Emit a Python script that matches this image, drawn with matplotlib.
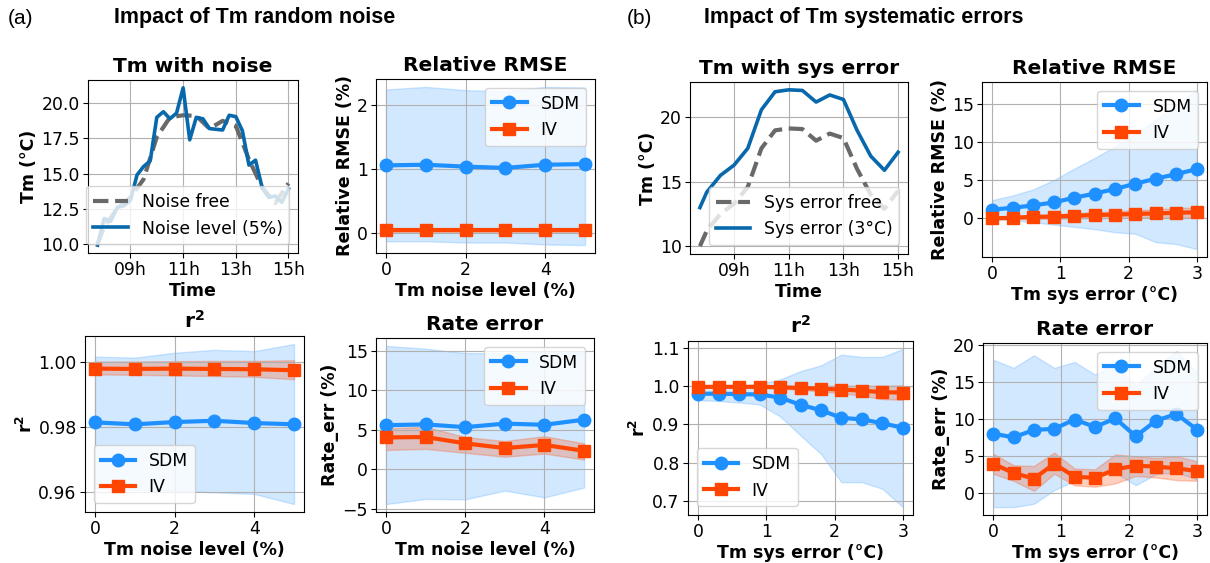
"""Impact of Tm random noise / systematic errors on SDM and IV fits."""

import numpy as np
import matplotlib.pyplot as plt
from matplotlib.ticker import FixedLocator

# ---- Tm time series ----
times_30 = ['07:45', '08:00', '08:30', '09:00', '09:30', '10:00', '10:30', '11:00',
            '11:30', '12:00', '12:30', '13:00', '13:30', '14:00', '14:30', '15:00']
tm_free = [10.0, 11.2, 12.5, 13.3, 14.6, 17.6, 19.0, 19.15,
           19.1, 18.2, 18.75, 18.4, 16.0, 14.0, 12.9, 14.3]
tm_sys3 = [13.0, 14.2, 15.5, 16.3, 17.6, 20.6, 22.0, 22.15,
           22.1, 21.2, 21.75, 21.4, 19.0, 17.0, 15.9, 17.3]

times_15 = ['07:45', '08:00', '08:15', '08:30', '08:45', '09:00', '09:15', '09:30',
            '09:45', '10:00', '10:15', '10:30', '10:45', '11:00', '11:15', '11:30',
            '11:45', '12:00', '12:15', '12:30', '12:45', '13:00', '13:15', '13:30',
            '13:45', '14:00', '14:15', '14:30', '14:45', '15:00']
tm_noise5 = [9.9, 11.8, 11.6, 12.6, 12.7, 13.1, 14.9, 15.5,
             15.9, 19.0, 19.4, 18.9, 19.3, 21.1, 17.4, 19.0,
             18.9, 18.2, 18.15, 18.1, 19.15, 19.05, 18.05, 15.6,
             15.95, 14.0, 13.3, 13.4, 12.95, 13.9]

# ---- random noise sweep ----
noise_lvl = [0, 1, 2, 3, 4, 5]
n_rmse_sdm = [1.06, 1.07, 1.04, 1.02, 1.07, 1.08]
n_rmse_sdm_lo = [-0.13, -0.13, -0.15, -0.15, -0.18, -0.19]
n_rmse_sdm_hi = [2.25, 2.29, 2.24, 2.22, 2.29, 2.28]
n_rmse_iv = [0.04, 0.04, 0.04, 0.04, 0.04, 0.04]
n_rmse_iv_lo = [0.01, 0.01, 0.01, 0.01, 0.01, 0.01]
n_rmse_iv_hi = [0.07, 0.07, 0.07, 0.07, 0.07, 0.07]

n_r2_sdm = [0.9815, 0.9809, 0.9816, 0.9820, 0.9813, 0.9809]
n_r2_sdm_lo = [0.9611, 0.9606, 0.9604, 0.9599, 0.9594, 0.9563]
n_r2_sdm_hi = [1.0018, 1.0015, 1.0030, 1.0039, 1.0035, 1.0057]
n_r2_iv = [0.9981, 0.9980, 0.9981, 0.9980, 0.9979, 0.9976]
n_r2_iv_lo = [0.9963, 0.9962, 0.9960, 0.9958, 0.9956, 0.9948]
n_r2_iv_hi = [1.0003, 1.0003, 1.0004, 1.0005, 1.0005, 1.0007]

n_rate_sdm = [5.6, 5.7, 5.35, 5.8, 5.65, 6.3]
n_rate_sdm_lo = [-4.4, -3.75, -3.8, -2.7, -3.55, -2.3]
n_rate_sdm_hi = [15.65, 15.3, 14.75, 14.7, 14.9, 14.85]
n_rate_iv = [4.05, 4.1, 3.3, 2.7, 3.1, 2.35]
n_rate_iv_lo = [2.45, 2.6, 2.1, 1.6, 2.0, 1.25]
n_rate_iv_hi = [5.2, 5.4, 4.1, 3.6, 4.2, 3.3]

# ---- systematic error sweep ----
sys_err = [0.0, 0.3, 0.6, 0.9, 1.2, 1.5, 1.8, 2.1, 2.4, 2.7, 3.0]
s_rmse_sdm = [1.15, 1.4, 1.7, 2.1, 2.7, 3.25, 3.85, 4.55, 5.2, 5.8, 6.45]
s_rmse_sdm_lo = [-0.05, -0.25, -0.5, -0.8, -1.1, -1.4, -1.8, -2.0, -3.1, -3.35, -4.0]
s_rmse_sdm_hi = [2.4, 3.0, 3.8, 5.0, 6.5, 7.9, 9.4, 11.1, 12.9, 14.9, 16.8]
s_rmse_iv = [0.0, 0.1, 0.2, 0.25, 0.35, 0.45, 0.5, 0.6, 0.65, 0.75, 0.8]
s_rmse_iv_lo = [-0.1, -0.1, -0.05, -0.05, 0.0, 0.05, 0.05, 0.1, 0.1, 0.1, 0.1]
s_rmse_iv_hi = [0.1, 0.3, 0.45, 0.55, 0.7, 0.85, 0.95, 1.1, 1.2, 1.35, 1.45]

s_r2_sdm = [0.980, 0.980, 0.979, 0.978, 0.970, 0.951, 0.937, 0.917, 0.913, 0.903, 0.891]
s_r2_sdm_lo = [0.963, 0.961, 0.957, 0.952, 0.921, 0.871, 0.823, 0.749, 0.749, 0.732, 0.684]
s_r2_sdm_hi = [0.999, 0.999, 1.001, 1.006, 1.017, 1.039, 1.054, 1.082, 1.076, 1.076, 1.097]
s_r2_iv = [0.998, 0.998, 0.998, 0.998, 0.997, 0.995, 0.993, 0.991, 0.988, 0.984, 0.983]
s_r2_iv_lo = [0.996, 0.996, 0.995, 0.995, 0.993, 0.990, 0.986, 0.981, 0.975, 0.966, 0.964]
s_r2_iv_hi = [1.000, 1.000, 1.000, 1.000, 1.000, 1.000, 1.000, 1.001, 1.001, 1.001, 1.002]

s_rate_sdm = [8.05, 7.55, 8.55, 8.7, 9.95, 8.95, 10.1, 7.7, 9.8, 10.7, 8.6]
s_rate_sdm_lo = [-1.85, -1.85, -1.4, 0.45, 1.7, 2.6, 2.8, 1.1, 2.6, 2.8, 1.9]
s_rate_sdm_hi = [18.0, 16.9, 18.6, 16.9, 17.7, 16.0, 17.5, 14.5, 17.0, 19.2, 16.3]
s_rate_iv = [4.0, 2.75, 2.0, 4.0, 2.25, 2.1, 3.25, 3.75, 3.6, 3.4, 3.0]
s_rate_iv_lo = [2.65, 1.7, 0.35, 2.65, 1.1, 0.9, 1.35, 2.35, 2.15, 1.8, 1.7]
s_rate_iv_hi = [5.35, 3.8, 3.7, 5.5, 3.35, 3.25, 5.25, 5.0, 4.8, 5.0, 4.35]

SDM_C = '#1e90ff'
IV_C = '#ff4500'
TM_C = '#0868ac'
TICK_FS = 12.4
LAB_FS = 12.5
TITLE_FS = 14.5

W, H = 1210, 563


def hours(labels):
    return [int(t[:2]) + int(t[3:]) / 60 for t in labels]


def add_ax(fig, x0, y0, x1, y1):
    # pixel box (top-left origin) -> figure fraction
    return fig.add_axes([x0 / W, 1 - y1 / H, (x1 - x0) / W, (y1 - y0) / H])


def style(ax, title, xlabel, ylabel):
    ax.set_title(title, fontsize=TITLE_FS, fontweight='bold')
    ax.set_xlabel(xlabel, fontsize=LAB_FS, fontweight='bold', labelpad=2)
    ax.set_ylabel(ylabel, fontsize=LAB_FS, fontweight='bold', labelpad=2)
    ax.tick_params(labelsize=TICK_FS, pad=2.5)
    ax.grid(True)


def metric_panel(ax, x, sdm, sdm_lo, sdm_hi, iv, iv_lo, iv_hi, loc):
    ax.fill_between(x, sdm_lo, sdm_hi, color=SDM_C, alpha=0.2)
    ax.fill_between(x, iv_lo, iv_hi, color=IV_C, alpha=0.25)
    ax.plot(x, sdm, color=SDM_C, marker='o', ms=9, lw=3, label='SDM')
    ax.plot(x, iv, color=IV_C, marker='s', ms=9, lw=3, label='IV')
    ax.legend(loc=loc, fontsize=TICK_FS)


def time_panel(ax, title):
    ax.set_xticks([9, 11, 13, 15])
    ax.set_xticklabels(['09h', '11h', '13h', '15h'])
    style(ax, title, 'Time', 'Tm (°C)')


def main():
    fig = plt.figure(figsize=(W / 100, H / 100), dpi=100)

    # (a) random noise
    ax = add_ax(fig, 88, 80, 298, 253)
    ax.plot(hours(times_30), tm_free, color='dimgray', ls='--', lw=3, label='Noise free')
    ax.plot(hours(times_15), tm_noise5, color=TM_C, lw=2.6, label='Noise level (5%)')
    ax.yaxis.set_major_locator(FixedLocator([10.0, 12.5, 15.0, 17.5, 20.0]))
    time_panel(ax, 'Tm with noise')
    ax.legend(loc='lower right', fontsize=TICK_FS)

    ax = add_ax(fig, 376, 79, 595, 253)
    metric_panel(ax, noise_lvl, n_rmse_sdm, n_rmse_sdm_lo, n_rmse_sdm_hi,
                 n_rmse_iv, n_rmse_iv_lo, n_rmse_iv_hi, 'upper right')
    ax.set_yticks([0, 1, 2])
    style(ax, 'Relative RMSE', 'Tm noise level (%)', 'Relative RMSE (%)')

    ax = add_ax(fig, 85, 336, 304, 512)
    metric_panel(ax, noise_lvl, n_r2_sdm, n_r2_sdm_lo, n_r2_sdm_hi,
                 n_r2_iv, n_r2_iv_lo, n_r2_iv_hi, 'lower left')
    ax.set_yticks([0.96, 0.98, 1.00])
    style(ax, r'$\mathbf{r^2}$', 'Tm noise level (%)', r'$\mathbf{r^2}$')

    ax = add_ax(fig, 376, 338, 594, 512)
    metric_panel(ax, noise_lvl, n_rate_sdm, n_rate_sdm_lo, n_rate_sdm_hi,
                 n_rate_iv, n_rate_iv_lo, n_rate_iv_hi, 'upper right')
    ax.set_yticks([-5, 0, 5, 10, 15])
    style(ax, 'Rate error', 'Tm noise level (%)', 'Rate_err (%)')

    # (b) systematic errors
    ax = add_ax(fig, 690, 82, 908, 254)
    ax.plot(hours(times_30), tm_free, color='dimgray', ls='--', lw=3, label='Sys error free')
    ax.plot(hours(times_30), tm_sys3, color=TM_C, lw=2.6, label='Sys error (3°C)')
    ax.set_yticks([10, 15, 20])
    time_panel(ax, 'Tm with sys error')
    ax.legend(loc='lower right', fontsize=TICK_FS)

    ax = add_ax(fig, 982, 82, 1207, 257)
    metric_panel(ax, sys_err, s_rmse_sdm, s_rmse_sdm_lo, s_rmse_sdm_hi,
                 s_rmse_iv, s_rmse_iv_lo, s_rmse_iv_hi, 'upper right')
    ax.set_yticks([0, 5, 10, 15])
    style(ax, 'Relative RMSE', 'Tm sys error (°C)', 'Relative RMSE (%)')

    ax = add_ax(fig, 688, 341, 913, 515)
    metric_panel(ax, sys_err, s_r2_sdm, s_r2_sdm_lo, s_r2_sdm_hi,
                 s_r2_iv, s_r2_iv_lo, s_r2_iv_hi, 'lower left')
    ax.set_yticks([0.7, 0.8, 0.9, 1.0, 1.1])
    style(ax, r'$\mathbf{r^2}$', 'Tm sys error (°C)', r'$\mathbf{r^2}$')

    ax = add_ax(fig, 983, 343, 1207, 515)
    metric_panel(ax, sys_err, s_rate_sdm, s_rate_sdm_lo, s_rate_sdm_hi,
                 s_rate_iv, s_rate_iv_lo, s_rate_iv_hi, 'upper right')
    ax.set_yticks([0, 5, 10, 15, 20])
    style(ax, 'Rate error', 'Tm sys error (°C)', 'Rate_err (%)')

    # section headers
    hdr = dict(family=['Liberation Sans', 'DejaVu Sans'], va='center')
    fig.text(8 / W, 1 - 18 / H, '(a)', ha='left', fontsize=15, **hdr)
    fig.text(255 / W, 1 - 18 / H, 'Impact of Tm random noise', ha='center',
             fontsize=15.5, fontweight='bold', **hdr)
    fig.text(627 / W, 1 - 18 / H, '(b)', ha='left', fontsize=15, **hdr)
    fig.text(864 / W, 1 - 18 / H, 'Impact of Tm systematic errors', ha='center',
             fontsize=15.5, fontweight='bold', **hdr)

    fig.savefig('out.png', dpi=100)


if __name__ == '__main__':
    main()
